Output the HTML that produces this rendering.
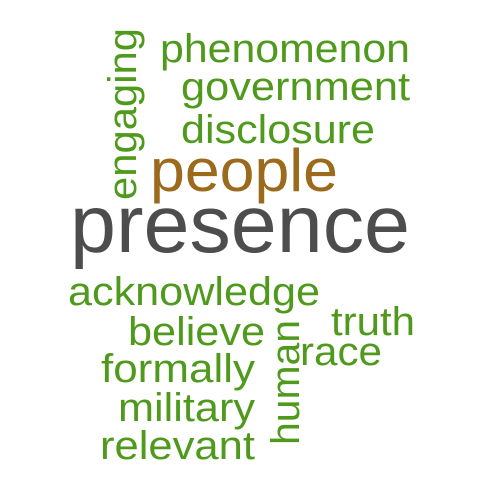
<!DOCTYPE html>
<html><head><meta charset="utf-8"><style>
html,body{margin:0;padding:0;background:#fff;}
svg{display:block;}
text{font-family:"Liberation Sans",Arial,sans-serif;}
</style></head><body>
<svg width="480" height="480" viewBox="0 0 480 480">
<g fill="#4f9a1c">
<text x="160" y="62" font-size="40" textLength="250" lengthAdjust="spacingAndGlyphs">phenomenon</text>
<text x="181" y="100" font-size="40" textLength="229" lengthAdjust="spacingAndGlyphs">government</text>
<text x="181" y="143" font-size="40" textLength="194" lengthAdjust="spacingAndGlyphs">disclosure</text>
<text transform="translate(136,200) rotate(-90)" font-size="40" textLength="172" lengthAdjust="spacingAndGlyphs">engaging</text>
<text x="68" y="305" font-size="40" textLength="252" lengthAdjust="spacingAndGlyphs">acknowledge</text>
<text x="331" y="335" font-size="40" textLength="84" lengthAdjust="spacingAndGlyphs">truth</text>
<text x="128" y="345" font-size="40" textLength="137" lengthAdjust="spacingAndGlyphs">believe</text>
<text x="300" y="365" font-size="40" textLength="82" lengthAdjust="spacingAndGlyphs">race</text>
<text x="101" y="382" font-size="40" textLength="154" lengthAdjust="spacingAndGlyphs">formally</text>
<text x="118" y="421" font-size="40" textLength="137" lengthAdjust="spacingAndGlyphs">military</text>
<text x="100" y="459" font-size="40" textLength="155" lengthAdjust="spacingAndGlyphs">relevant</text>
<text transform="translate(299,445) rotate(-90)" font-size="40" textLength="125" lengthAdjust="spacingAndGlyphs">human</text>
</g>
<text x="150" y="191" font-size="60" fill="#9b6a1c" textLength="188" lengthAdjust="spacingAndGlyphs">people</text>
<text x="70" y="252" font-size="82" fill="#4d4d4d" textLength="340" lengthAdjust="spacingAndGlyphs">presence</text>
</svg>
</body></html>
